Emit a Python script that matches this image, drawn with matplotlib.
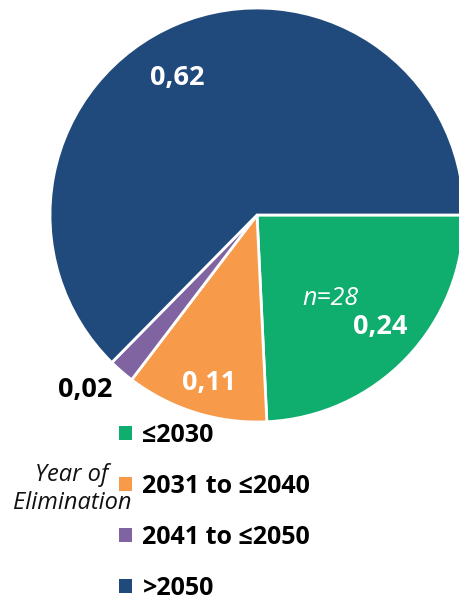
import matplotlib
matplotlib.use("Agg")
import matplotlib.pyplot as plt

plt.rcParams['font.family'] = ['Open Sans', 'DejaVu Sans']

# share of countries by projected year of elimination
categories = ['≤2030', '2031 to ≤2040', '2041 to ≤2050', '>2050']
shares = [0.24, 0.11, 0.02, 0.62]
colors = ['#0FAD6E', '#F79A4A', '#8064A2', '#214A7C']
n_total = 28

fig = plt.figure(figsize=(4.6, 5.98), dpi=100)
W, H = 460, 598
cx, cy, r = 257, 215, 207
ax = fig.add_axes([(cx - r) / W, (H - cy - r) / H, 2 * r / W, 2 * r / H])

wedges, _ = ax.pie(shares, colors=colors, startangle=0, counterclock=False,
                   radius=1, wedgeprops=dict(edgecolor='white', linewidth=2))
ax.set_xlim(-1, 1)
ax.set_ylim(-1, 1)
ax.set_aspect('auto')
ax.axis('off')

def fmt(v):
    return f"{v:.2f}".replace('.', ',')

label_pos = [(0.594, -0.541), (-0.232, -0.812), (-0.831, -0.845), (-0.386, 0.662)]
label_col = ['white', 'white', 'black', 'white']
for v, (x, y), c in zip(shares, label_pos, label_col):
    ax.text(x, y, fmt(v), color=c, fontsize=19.5, fontweight='bold',
            ha='center', va='center', clip_on=False)
ax.text(0.357, -0.401, f"n={n_total}", color='white', fontsize=18,
        style='italic', ha='center', va='center')

leg = fig.legend(wedges, categories, loc='upper left',
                 bbox_to_anchor=(119 / W, 1 - 423 / H), frameon=False,
                 prop=dict(family=['Open Sans', 'DejaVu Sans'], weight='bold', size=18),
                 handlelength=0.52, handleheight=0.52, handletextpad=0.42,
                 labelspacing=1.04, borderaxespad=0, borderpad=0)
for h in leg.legend_handles:
    h.set_linewidth(0)

fig.text(72 / W, 1 - 475 / H, 'Year of', fontsize=17, style='italic',
         ha='center', va='center', color='#111111')
fig.text(72 / W, 1 - 503 / H, 'Elimination', fontsize=17, style='italic',
         ha='center', va='center', color='#111111')

fig.savefig('out.png', dpi=100)
